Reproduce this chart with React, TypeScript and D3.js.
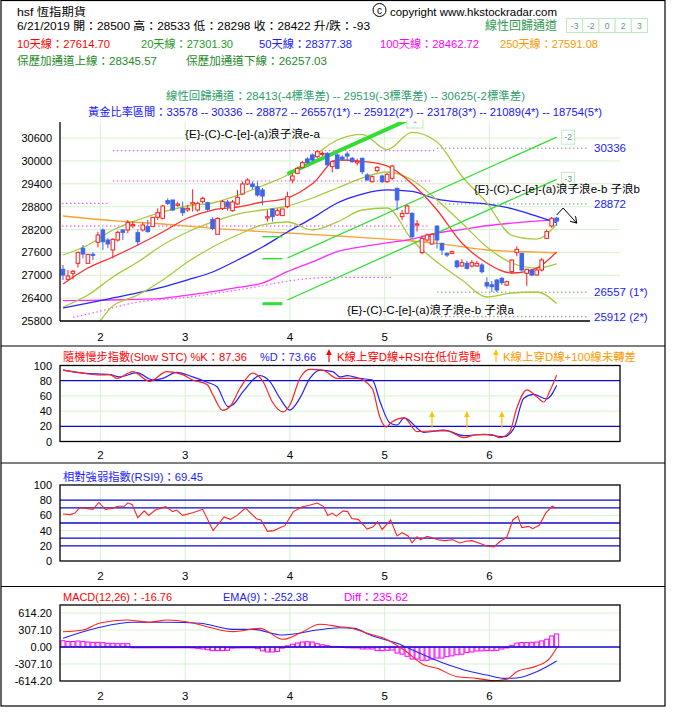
import React from 'react';
import * as d3 from 'd3';

const FONT = "'Liberation Sans','Noto Sans CJK TC','Noto Sans',sans-serif";

// ---------------- axis data ----------------
const monthLabels = ['2', '3', '4', '5', '6'];
const monthStartIdx = [8, 25, 46, 65, 86];
const priceTicks = [30600, 30000, 29400, 28800, 28200, 27600, 27000, 26400, 25800];
const oscTicks = [100, 80, 60, 40, 20, 0];
const macdTicks = [614.2, 307.1, 0, -307.1, -614.2];

// ---------------- candles ----------------
const opens = [27156,26894,27051,27314,27707,27314,27550,27865,28189,27926,27664,27926,28189,28189,28302,28118,28189,28276,28276,28521,28495,28958,28976,28836,28757,28713,28871,28713,28932,28906,28468,28075,28757,28923,28696,28871,29133,29396,29396,29326,29238,28503,28740,28582,28565,28801,29501,29676,29833,30052,30157,30113,30180,30200,29851,30157,30100,30183,30070,29950,30070,29632,29457,29746,29606,29457,29545,29283,28538,28626,28626,28320,27594,27926,27820,28293,27839,27576,27576,27375,27244,27314,27244,27244,27270,26806,26750,26876,26920,26745,27095,27594,27576,27051,27139,27007,27139,27970,28293,28500];
const highs = [27270,27139,27139,27620,27795,27550,27602,28145,28232,27970,27970,28171,28206,28451,28425,28206,28381,28451,28521,28757,28845,29020,28976,28932,28932,28845,29256,28932,29063,28932,28521,28521,28976,28976,28976,29238,29457,29545,29457,29457,29290,28713,28757,28757,28740,29194,29676,29850,30000,30100,30200,30290,30250,30230,30020,30200,30150,30250,30100,30060,30090,29680,29620,29870,29640,29680,29900,29300,28713,28850,28650,28450,28050,28100,28100,28300,27850,27600,27650,27400,27420,27380,27400,27380,27320,26950,26850,26900,26950,26860,27420,27760,27580,27170,27160,27170,27450,28200,28530,28533];
const lows = [26876,26876,26894,27200,27445,27314,27401,27734,27664,27707,27445,27882,27926,28101,28232,27769,28145,28118,28276,28451,28468,28845,28696,28801,28556,28670,28670,28670,28888,28696,28189,28075,28713,28696,28670,28845,29107,29370,29256,29063,28845,28407,28407,28556,28565,28757,29414,29650,29800,29930,29990,30080,30130,29880,29700,29780,30000,30000,29950,29880,29650,29480,29430,29700,29420,29420,29500,28713,28451,28600,27950,28150,27550,27880,27800,27700,27532,27480,27550,27180,27230,27150,27200,27220,27050,26650,26560,26560,26750,26720,27050,27500,27100,26720,26980,26990,27100,27950,28250,28298];
const closes = [27007,26981,27104,27602,27559,27550,27524,28057,27882,27821,27944,28127,28127,28381,28337,27882,28320,28145,28521,28643,28818,28888,28713,28871,28643,28757,28906,28888,29020,28731,28232,28495,28932,28801,28923,29046,29396,29501,29326,29107,29081,28538,28538,28696,28740,29063,29606,29807,29956,29956,30026,30244,30201,29900,29982,29807,30050,30131,29982,29990,29720,29501,29588,29833,29457,29650,29868,28976,28626,28818,28013,28350,27970,28057,28075,27926,27664,27532,27620,27226,27331,27182,27331,27314,27095,26719,26701,26614,26806,26832,27400,27681,27139,27156,27007,27139,27400,28145,28495,28422];

// ---------------- moving averages / bands (sampled) ----------------
const maIdx = [0, 5, 10, 15, 20, 25, 30, 35, 40, 45, 50, 55, 60, 65, 70, 75, 80, 85, 90, 95, 99];
const ma10 = [26771,27191,27480,27795,28136,28503,28713,28792,28923,29028,29400,30026,29990,29870,29400,28713,27847,27322,27060,27190,27615];
const ma20 = [26167,26482,26955,27349,27795,28136,28399,28608,28713,28818,29028,29291,29553,29711,29501,28976,28372,27742,27322,27191,27301];
const bbUpper = [27532,27795,28188,28451,28661,28818,28897,29100,29350,29632,30100,30550,30700,30300,30750,30500,29600,28900,28050,27950,28346];
const bbLower = [25400,25500,26194,26482,26876,27349,27742,28057,28320,28399,28188,28399,28713,28766,27926,27349,26876,26430,26535,26561,26257];
const ma50 = [26141,26270,26404,26540,26692,26880,27086,27400,27742,28136,28500,28897,29130,29240,29200,29000,28920,28870,28750,28550,28377];
const ma100 = [26333,26340,26351,26370,26396,26480,26569,26680,26797,27094,27350,27619,27750,27850,27950,28110,28200,28300,28370,28420,28463];
const ma250 = [28556,28490,28432,28390,28346,28290,28233,28190,28144,28110,28070,28031,27990,27950,27900,27839,27750,27664,27630,27610,27591];
const pinkDotIdx = [2, 7, 14, 25, 35, 50, 55, 60, 66];
const pinkDotVal = [25897, 26044, 26272, 26422, 26614, 26921, 26947, 26947, 26947];

// horizontal magenta dotted levels: value, from index, to index
const levelVal = [30270, 29475, 28889, 28293];
const levelFrom = [10, 10, -0.2, -0.2];
const levelTo = [74.4, 74, 9.4, 73.6];

// golden ratio levels
const fibVal = [30336, 28872, 26557, 25912];
const fibLabel = ['30336', '28872', '26557 (1*)', '25912 (2*)'];
const fibFrom = 75, fibTo = 105;

// linear regression channel
const chanLabel = ['0', '-2', '-3'];
const chanStartIdx = 45, chanEndIdx = 99;
const chanStart = [29658, 27454, 26351];
const chanEnd = [32837, 30625, 29519];
const markVal = [28012, 27435, 26254];
const markFrom = 40, markTo = 44;
const headerBoxes = ['-3', '-2', '0', '2', '3'];

// forecast arrow
const fcIdx = [99, 100.3, 103];
const fcVal = [28582, 28766, 28372];

// ---------------- stochastic ----------------
const kIdx = [0,4,7.4,9.4,10.8,14,17.4,20.8,24,26,28.9,30.1,32,33.5,35.5,38,40.1,42,44.1,45.5,47.5,49.5,52.1,55,59,62,63.5,64.8,66,68.4,71,74.4,77,80.4,83,86,87.6,89.6,91,93,95,96.4,97.6,99];
const kVal = [94,90,87.5,88,83,92,79,92,88,81,75,61,41,46,70,90,79,52,39,48,83,95,94,83,83,70,33,19,26,31,13,14,14,5,9,9,5,13,44,68,59,52,66,87.36];
const dIdx = [0,4,9.4,11.4,14.8,18,20,22.8,26,28.9,30.9,33.1,34,36.1,39.5,41.5,43.5,45.5,47.5,49.5,51.5,54.1,55.5,57,59.5,62,63.6,65.6,67,68.4,72.4,76.4,80.4,84.4,88.4,90.4,92.4,94.4,97,99];
const dVal = [94,90,88,85,90.5,81,83,91,85,78,72,46,48,65.5,86.6,78.7,57,41.4,57,83,94,92,85,86.6,83,81,52,24,21.7,31,12,15,7.6,9.5,6.3,17,57,62,56,73.66];
const signalIdx = [74, 81, 88];

// ---------------- RSI ----------------
const rsiIdx = [0,1.5,2.4,3.3,4.6,6,7.2,8.5,9.8,11,12.3,13,13.9,15,16.3,17.2,18.5,20.6,22,22.8,24,26,28,30.1,32.3,33.6,34.9,36.6,38.8,39.7,41,42.3,43.6,44.5,46.2,47.9,49.6,51,52.2,53.1,54,54.8,56.2,57.1,57.9,59.2,61,62.2,63.1,64,65.7,67,68,69.2,70,71,71.7,73,73.9,75.2,76.5,78.2,79.5,80.8,82,83.4,85.1,86.4,87.7,89,90.2,91.2,92,93.4,94.2,95.5,96.8,98.1,99];
const rsiVal = [61.8,61,63,70,69,68,77,68,69,72,72,76.6,74,57,66,60,67,71.5,65,67,60,63.6,68,40,57.9,54.8,60,69.7,55.7,54,39,40,44,46.5,65,71,73.7,76.3,71.9,60,63,59,66,65,56,54.8,42,45,51.6,41.5,53.9,32.9,37.3,33,24,32,28,32.5,31,28,26.8,28,23.7,25.9,26.8,23.7,19.3,18.4,25.9,31,54,59,44,45.6,42.5,47,63,72,69.45];
const rsiLevels = [80, 70, 50, 30, 20];

// ---------------- MACD ----------------
const macdIdx = [0,4,7.4,12.8,17.4,20.8,24.8,28.9,34.1,39.5,44.1,47.5,51.5,55.5,57.5,61,64.4,68.4,72.4,75,79,83,86.4,89,91,95,97.6,99];
const macdVal = [276,307,433,488,446,488,457,367,277,337,139,247,410,367,349,247,157,-54,-325,-385,-536,-566,-609,-583,-446,-343,-204,-16.76];
const emaIdx = [0,7.4,14,20.8,27.5,34,38,44.1,51,55.5,58.4,61.6,67,71.6,76.4,80.4,85,88.4,91,95,99];
const emaVal = [157,356,446,446,428,319,319,217,307,349,337,217,66,-114,-295,-415,-506,-566,-560,-446,-252.38];
const diffVal = [114,100,100,108,100,90,85,85,78,66,66,60,60,60,-15,-15,-15,-15,-10,0,0,0,-8,-8,-8,-10,-17,-25,-36,-50,-66,-66,-66,-60,-20,-17,-15,-15,-15,-30,-70,-90,-90,-80,-20,20,50,72,90,95,90,60,40,25,10,10,5,0,-17,-17,-36,-36,-36,-66,-66,-60,-55,-110,-130,-168,-217,-217,-240,-241,-220,-199,-199,-175,-160,-140,-130,-100,-90,-72,-70,-66,-66,-60,-36,-17,30,72,80,80,85,90,110,140,200,235.62];

// ---------------- colours ----------------
const GRID = '#d6f2cc';
const RED = '#ff1a1a';
const BLUE_C = '#3f66e6';
const YG = '#a9c93c';

export default function App() {
  const x = d3.scaleLinear().domain([-0.6, 111.7]).range([60, 620]);
  const yP = d3.scaleLinear().domain([25800, 31023]).range([321, 122]);
  const yS = d3.scaleLinear().domain([0, 100]).range([441.5, 365.5]);
  const yR = d3.scaleLinear().domain([0, 100]).range([561, 485]);
  const yM = d3.scaleLinear().domain([-614.2, 614.2]).range([681, 613]);

  const pl = (idx: number[], vals: number[], y: any, curve: any = d3.curveMonotoneX) =>
    d3.line<number>().x((_, k) => x(idx[k])).y((v) => y(v)).curve(curve)(vals) || '';

  const monthX = monthStartIdx.map((i) => x(i - 0.5));

  const arrow = (cx: number, tipY: number, baseY: number, color: string, key: string) => (
    <g key={key}>
      <line x1={cx} x2={cx} y1={tipY + 4} y2={baseY} stroke={color} strokeWidth={1.2} />
      <path d={`M${cx - 2.8},${tipY + 6} L${cx},${tipY} L${cx + 2.8},${tipY + 6} Z`} fill={color} />
    </g>
  );

  const monthGrid = (top: number, bottom: number) =>
    monthX.map((mx, k) => <line key={k} x1={mx} x2={mx} y1={top} y2={bottom} stroke={GRID} />);

  return (
    <svg width={677} height={717} style={{ position: 'absolute', left: 0, top: 0, background: '#fff' }} fontFamily={FONT}>
      <defs>
        <clipPath id="mainClip"><rect x={60} y={122} width={560} height={199} /></clipPath>
        <clipPath id="topBoxClip"><rect x={60} y={119.5} width={600} height={205} /></clipPath>
        <marker id="fcHead" markerWidth={8} markerHeight={8} refX={6} refY={4} orient="auto" markerUnits="userSpaceOnUse">
          <path d="M0,0 L6,4 L0,8" fill="none" stroke="#000" strokeWidth={1} />
        </marker>
      </defs>
      <rect x={0} y={0} width={677} height={717} fill="#fff" />
      {/* outer frame and separators */}
      <rect x={1} y={0.5} width={664} height={705.5} fill="none" stroke="#000" strokeWidth={1.2} />
      <line x1={1} x2={665} y1={346} y2={346} stroke="#000" strokeWidth={1.2} />
      <line x1={1} x2={665} y1={463} y2={463} stroke="#000" strokeWidth={1.2} />
      <line x1={1} x2={665} y1={586.5} y2={586.5} stroke="#000" strokeWidth={1.2} />

      {/* ---------- header ---------- */}
      <g fontSize={11.5}>
        <text x={17} y={16} fill="#000" textLength={69} lengthAdjust="spacingAndGlyphs">hsf 恆指期貨</text>
        <circle cx={379.5} cy={10} r={6.5} fill="none" stroke="#000" strokeWidth={1} />
        <text x={379.5} y={13.5} fill="#000" fontSize={10} textAnchor="middle">c</text>
        <text x={390} y={16} fill="#000" textLength={167} lengthAdjust="spacingAndGlyphs">copyright www.hkstockradar.com</text>
        <text x={17} y={30} fill="#000" textLength={353} lengthAdjust="spacingAndGlyphs">6/21/2019 開：28500 高：28533 低：28298 收：28422 升/跌：-93</text>
        <text x={485} y={30} fill="#2f9a50" fontSize={12} textLength={72} lengthAdjust="spacingAndGlyphs">線性回歸通道</text>
        {headerBoxes.map((t, k) => (
          <g key={t}>
            <rect x={566.5 + k * 16.2} y={18.5} width={16.2} height={14} fill="#fff" stroke="#bfe9bf" />
            <text x={574.6 + k * 16.2} y={29} fontSize={8.5} fill="#5a9a7a" textAnchor="middle">{t}</text>
          </g>
        ))}
        <text x={17} y={48} fill="#ff0000" textLength={93} lengthAdjust="spacingAndGlyphs">10天線：27614.70</text>
        <text x={141} y={48} fill="#1f9a1f" textLength={92} lengthAdjust="spacingAndGlyphs">20天線：27301.30</text>
        <text x={259} y={48} fill="#1a1aff" textLength={93} lengthAdjust="spacingAndGlyphs">50天線：28377.38</text>
        <text x={380} y={48} fill="#ff00ff" textLength={99} lengthAdjust="spacingAndGlyphs">100天線：28462.72</text>
        <text x={500} y={48} fill="#ff9900" textLength={98} lengthAdjust="spacingAndGlyphs">250天線：27591.08</text>
        <text x={17} y={65} fill="#1f8a1f" textLength={140} lengthAdjust="spacingAndGlyphs">保歷加通道上線：28345.57</text>
        <text x={186} y={65} fill="#1f8a1f" textLength={141} lengthAdjust="spacingAndGlyphs">保歷加通道下線：26257.03</text>
        <text x={166} y={100} fill="#2e9e6a" textLength={359} lengthAdjust="spacingAndGlyphs">線性回歸通道：28413(-4標準差) -- 29519(-3標準差) -- 30625(-2標準差)</text>
        <text x={88} y={116} fill="#1515ff" textLength={514} lengthAdjust="spacingAndGlyphs">黃金比率區間：33578 -- 30336 -- 28872 -- 26557(1*) -- 25912(2*) -- 23178(3*) -- 21089(4*) -- 18754(5*)</text>
      </g>

      {/* ---------- main price panel ---------- */}
      {priceTicks.map((t) => (
        <g key={t}>
          <line x1={60} x2={620} y1={yP(t)} y2={yP(t)} stroke={GRID} />
          <text x={52} y={yP(t) + 4} fontSize={11} textAnchor="end" fill="#000">{t}</text>
        </g>
      ))}
      {monthX.map((mx, k) => (
        <g key={k}>
          <line x1={mx} x2={mx} y1={122} y2={321} stroke={GRID} />
          <text x={mx} y={341} fontSize={11.5} textAnchor="middle">{monthLabels[k]}</text>
        </g>
      ))}
      <g clipPath="url(#mainClip)">
        {levelVal.map((v, k) => (
          <line key={k} x1={x(levelFrom[k])} x2={x(levelTo[k])} y1={yP(v)} y2={yP(v)} stroke="#ff33ff" strokeDasharray="1.5 2.5" />
        ))}
        {fibVal.map((v, k) => (
          <line key={k} x1={x(fibFrom)} x2={x(fibTo)} y1={yP(v)} y2={yP(v)} stroke="#8c8c8c" strokeDasharray="1.5 2.5" />
        ))}
        <path d={pl(pinkDotIdx, pinkDotVal, yP)} fill="none" stroke="#ff55ff" strokeWidth={1.2} strokeDasharray="1.5 2.5" />
        <path d={pl(maIdx, ma250, yP)} fill="none" stroke="#ffa030" strokeWidth={1.3} />
        <path d={pl(maIdx, ma100, yP)} fill="none" stroke="#ff2cff" strokeWidth={1.3} />
        <path d={pl(maIdx, ma50, yP)} fill="none" stroke="#2626ff" strokeWidth={1.3} />
        <path d={pl(maIdx, bbUpper, yP)} fill="none" stroke={YG} strokeWidth={1.3} />
        <path d={pl(maIdx, bbLower, yP)} fill="none" stroke={YG} strokeWidth={1.3} />
        <path d={pl(maIdx, ma20, yP)} fill="none" stroke={YG} strokeWidth={1.3} />
        <path d={pl(maIdx, ma10, yP)} fill="none" stroke="#ff3030" strokeWidth={1.3} />
        {chanLabel.map((lab, k) => (
          <line key={lab} x1={x(chanStartIdx)} x2={x(chanEndIdx)} y1={yP(chanStart[k])} y2={yP(chanEnd[k])} stroke="#33dd33" strokeWidth={lab === '0' ? 4 : 1.3} />
        ))}
        {markVal.map((v, k) => (
          <line key={k} x1={x(markFrom)} x2={x(markTo)} y1={yP(v)} y2={yP(v)} stroke="#33dd33" strokeWidth={k === 2 ? 3 : 1.4} />
        ))}
        {opens.map((o, i) => {
          const c = closes[i];
          const up = c >= o;
          const cx = x(i);
          const top = yP(Math.max(o, c));
          const h = Math.max(1, Math.abs(yP(o) - yP(c)));
          const col = up ? RED : BLUE_C;
          return (
            <g key={i}>
              <line x1={cx} x2={cx} y1={yP(highs[i])} y2={yP(lows[i])} stroke={col} strokeWidth={1} />
              <rect x={cx - 1.8} y={top} width={3.6} height={h} fill={up ? '#fff' : col} stroke={col} strokeWidth={1} />
            </g>
          );
        })}
      </g>
      <g clipPath="url(#topBoxClip)">
        {chanLabel.map((lab, k) => {
          const isZero = lab === '0';
          const bx = isZero ? 407 : x(chanEndIdx) + 5;
          const by = isZero ? 114 : yP(chanEnd[k]) - 7;
          return (
            <g key={lab}>
              <rect x={bx} y={by} width={isZero ? 16 : 13} height={14} fill="#fff" stroke="#bfe9bf" />
              {!isZero && (
                <text x={bx + 6.5} y={by + 10} fontSize={8.5} fill="#5a9a7a" textAnchor="middle">{lab}</text>
              )}
            </g>
          );
        })}
        <path d="M413.5,123 q1.5,-2.5 3,0" fill="none" stroke="#5a9a7a" strokeWidth={0.9} />
      </g>
      <path d={pl(fcIdx, fcVal, yP, d3.curveLinear)} fill="none" stroke="#000" strokeWidth={1} markerEnd="url(#fcHead)" />
      {fibVal.map((v, k) => (
        <text key={k} x={594} y={yP(v) + 4} fontSize={11.5} fill="#1a1aff">{fibLabel[k]}</text>
      ))}
      <text x={185} y={138} fontSize={11.5} fill="#000" textLength={135} lengthAdjust="spacingAndGlyphs">{'{E}-(C)-C-[e]-(a)浪子浪e-a'}</text>
      <text x={474} y={193} fontSize={11.5} fill="#000" textLength={166} lengthAdjust="spacingAndGlyphs">{'{E}-(C)-C-[e]-(a)浪子浪e-b 子浪b'}</text>
      <text x={347} y={314} fontSize={11.5} fill="#000" textLength={167} lengthAdjust="spacingAndGlyphs">{'{E}-(C)-C-[e]-(a)浪子浪e-b 子浪a'}</text>
      <line x1={60} x2={60} y1={122} y2={321} stroke="#000" strokeWidth={1.3} />
      <line x1={60} x2={590} y1={321} y2={321} stroke="#000" strokeWidth={1.3} />

      {/* ---------- stochastic ---------- */}
      {monthGrid(365.5, 441.5)}
      {oscTicks.map((t) => (
        <g key={t}>
          {(t === 60 || t === 40) && <line x1={60} x2={620} y1={yS(t)} y2={yS(t)} stroke={GRID} />}
          <text x={52} y={yS(t) + 4} fontSize={11} textAnchor="end">{t}</text>
        </g>
      ))}
      {[80, 20].map((t) => (
        <line key={t} x1={60} x2={620} y1={yS(t)} y2={yS(t)} stroke="#0a0ad0" strokeWidth={1.3} />
      ))}
      <path d={pl(dIdx, dVal, yS)} fill="none" stroke="#2222ff" strokeWidth={1.2} />
      <path d={pl(kIdx, kVal, yS)} fill="none" stroke="#ff2222" strokeWidth={1.2} />
      {signalIdx.map((i, k) => arrow(x(i), yS(40), yS(18), '#ffc000', 's' + k))}
      <rect x={60} y={365.5} width={560} height={76} fill="none" stroke="#000" strokeWidth={1.3} />
      {monthX.map((mx, k) => (
        <text key={k} x={mx} y={459} fontSize={11.5} textAnchor="middle">{monthLabels[k]}</text>
      ))}
      <g fontSize={11.5}>
        <text x={63} y={361} fill="#ff0000" textLength={184} lengthAdjust="spacingAndGlyphs">隨機慢步指數(Slow STC) %K：87.36</text>
        <text x={260} y={361} fill="#2222ff" textLength={56} lengthAdjust="spacingAndGlyphs">%D：73.66</text>
        {arrow(329, 349, 362, '#ff0000', 'ta')}
        <text x={337} y={361} fill="#ff0000" textLength={144} lengthAdjust="spacingAndGlyphs">K線上穿D線+RSI在低位背馳</text>
        {arrow(496, 349, 362, '#ffc000', 'tb')}
        <text x={503} y={361} fill="#ff9900" textLength={133} lengthAdjust="spacingAndGlyphs">K線上穿D線+100線未轉差</text>
      </g>

      {/* ---------- RSI ---------- */}
      {monthGrid(485, 561)}
      {oscTicks.map((t) => (
        <g key={t}>
          {(t === 60 || t === 40) && <line x1={60} x2={620} y1={yR(t)} y2={yR(t)} stroke={GRID} />}
          <text x={52} y={yR(t) + 4} fontSize={11} textAnchor="end">{t}</text>
        </g>
      ))}
      {rsiLevels.map((t) => (
        <line key={t} x1={60} x2={620} y1={yR(t)} y2={yR(t)} stroke="#0a0ad0" strokeWidth={1.3} />
      ))}
      <path d={pl(rsiIdx, rsiVal, yR, d3.curveLinear)} fill="none" stroke="#ff2222" strokeWidth={1.1} />
      <rect x={60} y={485} width={560} height={76} fill="none" stroke="#000" strokeWidth={1.3} />
      {monthX.map((mx, k) => (
        <text key={k} x={mx} y={580} fontSize={11.5} textAnchor="middle">{monthLabels[k]}</text>
      ))}
      <text x={63} y={481} fontSize={11.5} fill="#1a1aff" textLength={140} lengthAdjust="spacingAndGlyphs">相對強弱指數(RSI9)：69.45</text>

      {/* ---------- MACD ---------- */}
      {monthGrid(605, 681)}
      {macdTicks.map((t) => (
        <g key={t}>
          {t !== 0 && t !== -614.2 && <line x1={60} x2={620} y1={yM(t)} y2={yM(t)} stroke={GRID} />}
          <text x={52} y={yM(t) + 4} fontSize={11} textAnchor="end">{t.toFixed(2)}</text>
        </g>
      ))}
      {diffVal.map((d, i) => (
        <rect key={i} x={x(i) - 2} y={Math.min(yM(d), yM(0))} width={4} height={Math.max(0.8, Math.abs(yM(d) - yM(0)))} fill="#fff" stroke="#ff00ff" strokeWidth={1} />
      ))}
      <line x1={60} x2={620} y1={yM(0)} y2={yM(0)} stroke="#0a0ad0" strokeWidth={1.3} />
      <path d={pl(emaIdx, emaVal, yM)} fill="none" stroke="#2222ff" strokeWidth={1.1} />
      <path d={pl(macdIdx, macdVal, yM)} fill="none" stroke="#ff2222" strokeWidth={1.1} />
      <rect x={60} y={605} width={560} height={76} fill="none" stroke="#000" strokeWidth={1.3} />
      {monthX.map((mx, k) => (
        <text key={k} x={mx} y={700} fontSize={11.5} textAnchor="middle">{monthLabels[k]}</text>
      ))}
      <g fontSize={11.5}>
        <text x={63} y={601} fill="#ff0000" textLength={109} lengthAdjust="spacingAndGlyphs">MACD(12,26)：-16.76</text>
        <text x={223} y={601} fill="#2222ff" textLength={85} lengthAdjust="spacingAndGlyphs">EMA(9)：-252.38</text>
        <text x={344} y={601} fill="#ff00ff" textLength={64} lengthAdjust="spacingAndGlyphs">Diff：235.62</text>
      </g>
    </svg>
  );
}
